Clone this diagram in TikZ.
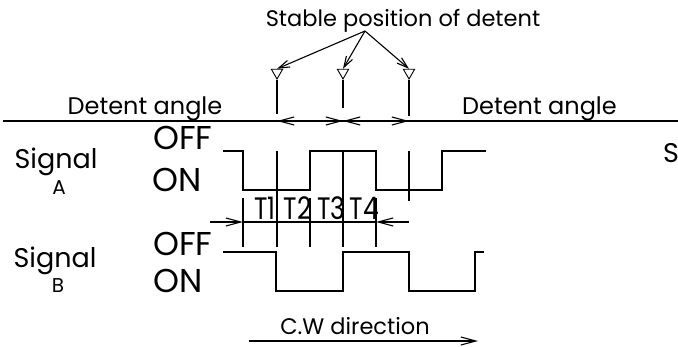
\documentclass[tikz,border=0pt]{standalone}
\usepackage{fontspec}
\setmainfont{Poppins}
\usetikzlibrary{arrows.meta,shapes.geometric}
\tikzstyle{detent} = [regular polygon,regular polygon sides=3,shape border rotate=180,draw,line width=0.9pt,inner sep=0pt,minimum size=13pt]
\tikzstyle{wave} = [line width=1.5pt]
\tikzstyle{tick} = [line width=1.1pt]
\tikzstyle{txt} = [inner sep=0pt,anchor=base]
\tikzset{>={Straight Barb[length=15pt,width=8pt]}}
\newcommand{\narrow}[1]{\scalebox{0.8}[1]{#1}}

\begin{document}
\begin{tikzpicture}[x=1pt,y=-1pt]
    \useasboundingbox (0,0) rectangle (678,347);
    % stable positions
    \node [txt,font=\fontsize{22.5}{22.5}\selectfont] (title) at (403,27) {Stable position of detent};
    \coordinate (fork) at (365,31);
    \node [detent] (det1) at (277,72.5) {};
    \node [detent] (det2) at (343,72.5) {};
    \node [detent] (det3) at (409,72.5) {};
    \foreach \n in {det1,det2,det3}
      \draw [tick,-{Straight Barb[length=11pt,width=7pt]}] (fork) -- (\n.north);
    \draw [tick] (det1.south) -- ++(0,34);
    \draw [tick] (det2.south) -- ++(0,28);
    \draw [tick] (det3.south) -- ++(0,36);
    % detent angle line
    \coordinate (d1) at (277,121);
    \coordinate (d2) at (343,121);
    \coordinate (d3) at (409,121);
    \draw [wave] (3,121) -- (678,121);
    \draw [tick,<->] (d1) -- (d2);
    \draw [tick,<->] (d2) -- (d3);
    \node [txt,font=\fontsize{24}{24}\selectfont] (angL) at (145,115) {Detent angle};
    \node [txt,font=\fontsize{24}{24}\selectfont] (angR) at (539.5,115) {Detent angle};
    % signal A
    \node [txt,font=\fontsize{27}{27}\selectfont] (sigA) at (56,169) {Signal};
    \node [txt,font=\fontsize{20}{20}\selectfont] (labA) at (59,195) {A};
    \node [txt,anchor=base west,font=\fontsize{33}{33}\selectfont] (offA) at (153,150) {OFF};
    \node [txt,anchor=base west,font=\fontsize{33}{33}\selectfont] (onA) at (152,192) {ON};
    \draw [wave] (223,151) -- (243,151) -- (243,190) -- (310,190) -- (310,151)
      -- (376,151) -- (376,190) -- (442,190) -- (442,151) -- (486,151);
    % signal B
    \node [txt,font=\fontsize{27}{27}\selectfont] (sigB) at (55,268) {Signal};
    \node [txt,font=\fontsize{20}{20}\selectfont] (labB) at (58,293) {B};
    \node [txt,anchor=base west,font=\fontsize{33}{33}\selectfont] (offB) at (153,256) {OFF};
    \node [txt,anchor=base west,font=\fontsize{33}{33}\selectfont] (onB) at (153,293) {ON};
    \draw [wave] (223,252) -- (276,252) -- (276,291) -- (343,291) -- (343,252)
      -- (409,252) -- (409,291) -- (475,291) -- (475,252) -- (484,252);
    % phase lines
    \draw [tick] (277,151) -- (277,247);
    \draw [tick] (343,151) -- (343,247);
    \draw [tick] (409,151) -- (409,201);
    \foreach \x in {243,310,376}
      \draw [tick] (\x,198) -- (\x,247);
    \coordinate (t0) at (243,222);
    \coordinate (t4) at (376,222);
    \draw [tick,->] (210,222) -- (t0);
    \draw [tick] (t0) -- (t4);
    \draw [tick,->] (409,222) -- (t4);
    \foreach \x/\t in {265/T1,297.5/T2,331.5/T3,364.5/T4}
      \node [txt,font=\fontsize{31}{31}\selectfont] (\t) at (\x,220) {\narrow{\t}};
    % direction
    \node [txt,font=\fontsize{22.5}{22.5}\selectfont] (cw) at (355,335) {C.W direction};
    \coordinate (cw0) at (249,341);
    \coordinate (cw1) at (478,341);
    \draw [tick,->] (cw0) -- (cw1);
    % next figure
    \node [txt,anchor=base west,font=\fontsize{27}{27}\selectfont] (cut) at (663,163) {S};
  \end{tikzpicture}
\end{document}
